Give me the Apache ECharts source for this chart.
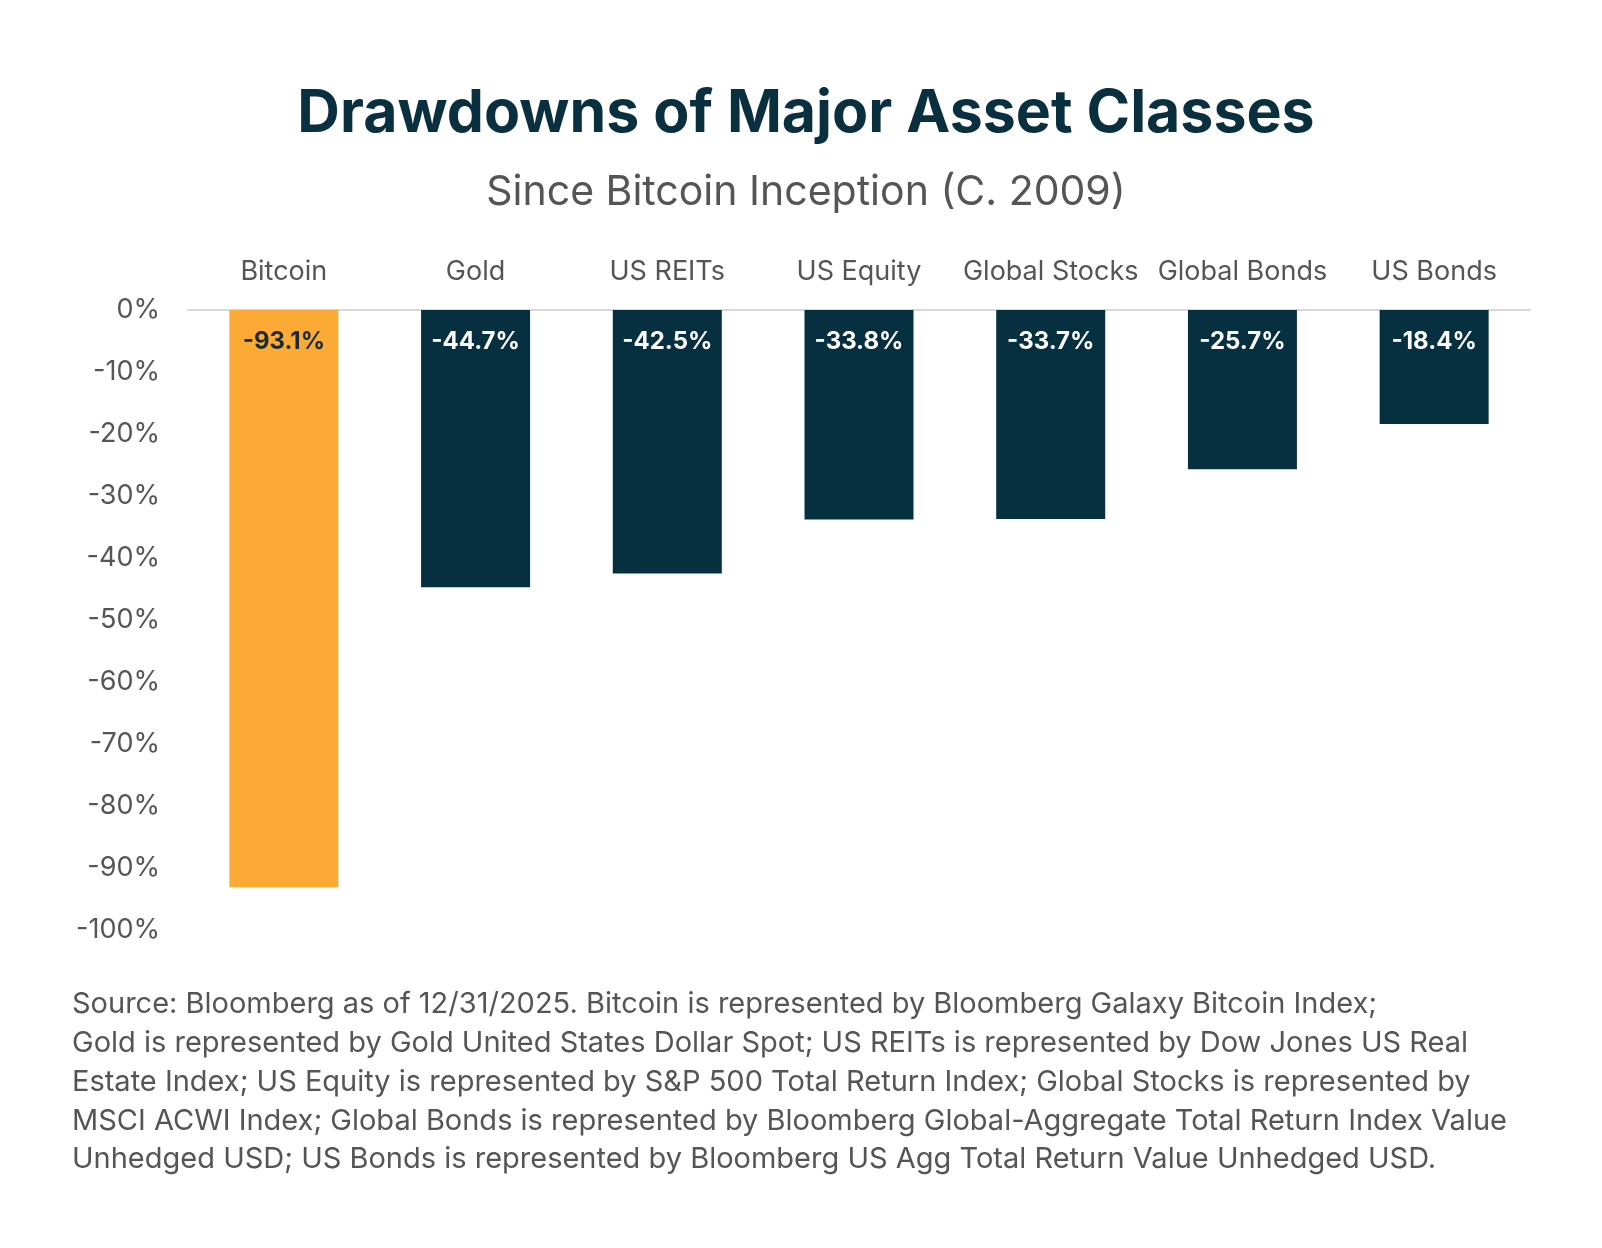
<!DOCTYPE html>
<html>
<head>
<meta charset="utf-8">
<script src="https://cdn.jsdelivr.net/npm/echarts@6/dist/echarts.min.js"></script>
<style>html,body{margin:0;padding:0;background:#fff}#c{width:1602px;height:1248px}</style>
</head>
<body>
<div id="c"></div>
<script>
const categories = ['Bitcoin', 'Gold', 'US REITs', 'US Equity', 'Global Stocks', 'Global Bonds', 'US Bonds'];
const drawdowns = [-93.1, -44.7, -42.5, -33.8, -33.7, -25.7, -18.4];
const yTicks = { min: -100, max: 0, interval: 10 };
const titleText = 'Drawdowns of Major Asset Classes';
const subtitleText = 'Since Bitcoin Inception (C. 2009)';
const sourceLines = [
  'Source: Bloomberg as of 12/31/2025. Bitcoin is represented by Bloomberg Galaxy Bitcoin Index;',
  'Gold is represented by Gold United States Dollar Spot; US REITs is represented by Dow Jones US Real',
  'Estate Index; US Equity is represented by S&P 500 Total Return Index; Global Stocks is represented by',
  'MSCI ACWI Index; Global Bonds is represented by Bloomberg Global-Aggregate Total Return Index Value',
  'Unhedged USD; US Bonds is represented by Bloomberg US Agg Total Return Value Unhedged USD.'
];

const FONT = 'Inter, "Noto Sans", sans-serif';
const chart = echarts.init(document.getElementById('c'));
chart.setOption({
  backgroundColor: '#ffffff',
  animation: false,
  title: [
    { text: titleText, left: 801, top: 80, textAlign: 'center',
      textStyle: { fontFamily: FONT, fontSize: 59, fontWeight: 'bold', color: '#0a3040' } },
    { text: subtitleText, left: 801, top: 167, textAlign: 'center',
      textStyle: { fontFamily: FONT, fontSize: 41, fontWeight: 'normal', color: '#555555' } }
  ],
  grid: { left: 188, right: 72, top: 310, bottom: 318, containLabel: false },
  xAxis: {
    type: 'category',
    data: categories,
    position: 'top',
    axisLine: { show: true, lineStyle: { color: '#d9d9d9', width: 2 } },
    axisTick: { show: false },
    axisLabel: { fontFamily: FONT, fontSize: 27, color: '#555555', margin: 25, interval: 0 }
  },
  yAxis: {
    type: 'value',
    min: yTicks.min, max: yTicks.max, interval: yTicks.interval,
    axisLine: { show: false },
    axisTick: { show: false },
    splitLine: { show: false },
    axisLabel: { fontFamily: FONT, fontSize: 27, color: '#555555', margin: 28,
      formatter: v => v + '%' }
  },
  series: [{
    type: 'bar',
    data: drawdowns.map((v, i) => ({
      value: v,
      itemStyle: { color: i === 0 ? '#fbab35' : '#06303f' },
      label: { color: i === 0 ? '#1b2a30' : '#ffffff' }
    })),
    barWidth: 109,
    label: {
      show: true, position: 'insideTop', distance: 20,
      fontFamily: FONT, fontSize: 24, fontWeight: 'bold',
      formatter: p => p.value.toFixed(1) + '%'
    }
  }],
  graphic: sourceLines.map((line, i) => ({
    type: 'text', left: 72, top: 990 + i * 38.8,
    style: { text: line, fontFamily: FONT, fontSize: 29, fill: '#555555' }
  }))
});
</script>
</body>
</html>
